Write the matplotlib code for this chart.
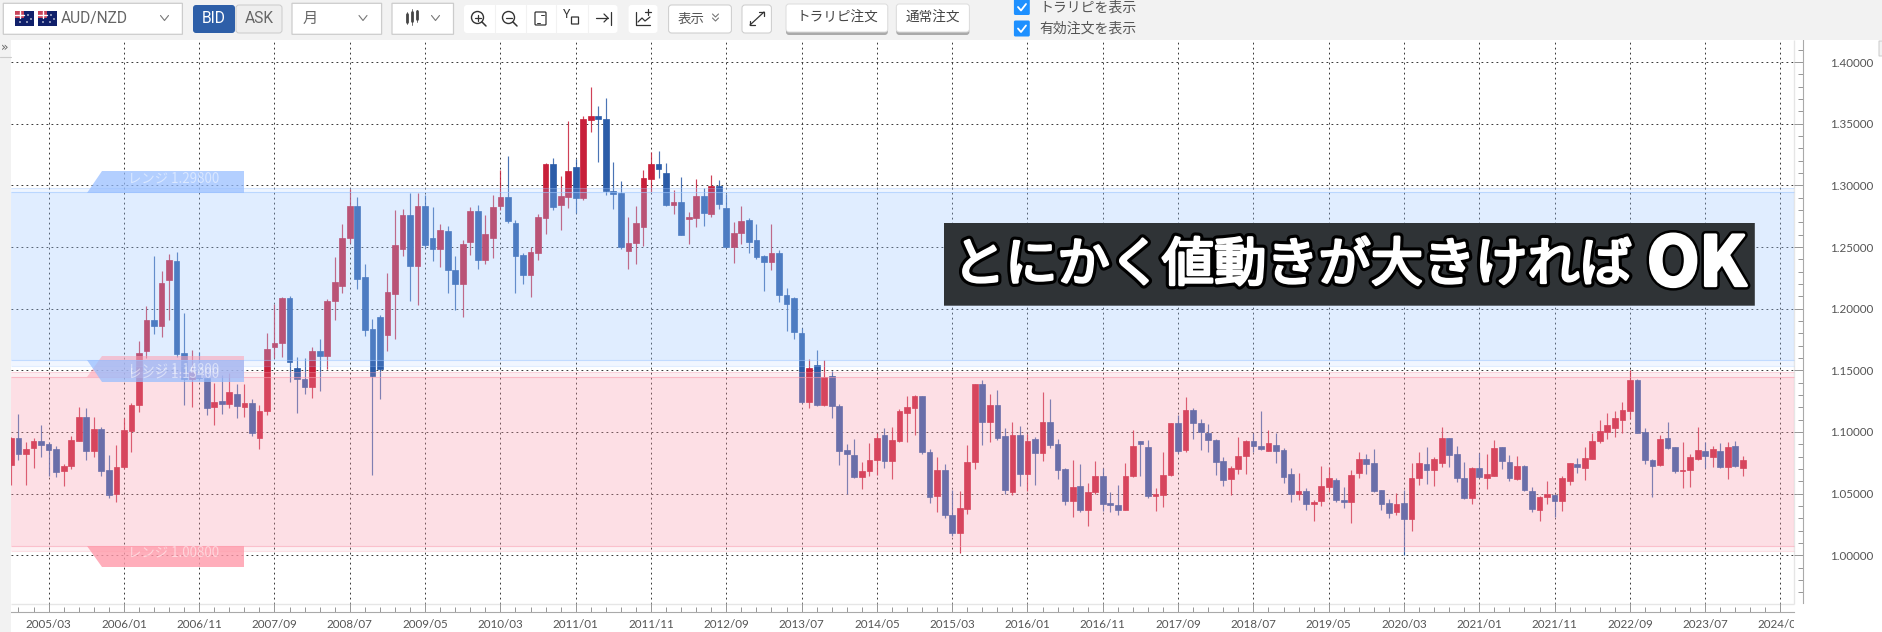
import matplotlib
matplotlib.use("Agg")
import matplotlib.pyplot as plt
import matplotlib.patheffects as pe
from matplotlib.patches import FancyBboxPatch, Polygon, Circle
from matplotlib.lines import Line2D
from matplotlib.ticker import FixedLocator, FixedFormatter
from matplotlib.transforms import Affine2D, Bbox

plt.rcParams['font.family'] = ['Noto Sans CJK JP', 'DejaVu Sans']

# ---------------- data (monthly AUD/NZD, first candle 2004/10) ----------------
first_month_index = -5   # months relative to 2005/03
body_top = [
1.0955,1.0953,1.0866,1.0923,1.0923,1.0901,1.0863,1.0725,1.0936,1.1121,
1.1121,1.1023,1.1028,1.0690,1.0719,1.1015,1.1218,1.1641,1.1907,1.1909,
1.2210,1.2397,1.2389,1.1638,1.1490,1.1500,1.1440,1.1243,1.1248,1.1327,
1.1305,1.1237,1.1234,1.1172,1.1671,1.1720,1.2083,1.2088,1.1519,1.1430,
1.1657,1.1654,1.2064,1.2213,1.2577,1.2831,1.2831,1.2258,1.1832,1.1929,
1.2132,1.2520,1.2758,1.2758,1.2836,1.2836,1.2572,1.2636,1.2634,1.2315,
1.2526,1.2796,1.2793,1.2607,1.2828,1.2906,1.2906,1.2693,1.2434,1.2458,
1.2742,1.3173,1.3171,1.2912,1.3117,1.3152,1.3535,1.3562,1.3562,1.3536,
1.2957,1.2935,1.2534,1.2694,1.3057,1.3176,1.3176,1.3100,1.2867,1.2867,
1.2743,1.2916,1.2916,1.2995,1.2995,1.2813,1.2618,1.2713,1.2721,1.2556,
1.2431,1.2450,1.2453,1.2114,1.2087,1.1803,1.1518,1.1543,1.1448,1.1451,
1.1207,1.0852,1.0817,1.0687,1.0776,1.0955,1.0973,1.0935,1.1167,1.1199,
1.1293,1.1288,1.0839,1.0694,1.0694,1.0328,1.0382,1.0758,1.1387,1.1387,
1.1218,1.1218,1.0965,1.0976,1.0976,1.0927,1.0946,1.1081,1.1081,1.0901,
1.0696,1.0556,1.0559,1.0516,1.0642,1.0642,1.0427,1.0409,1.0645,1.0890,
1.0925,1.0882,1.0495,1.0653,1.1070,1.1070,1.1180,1.1180,1.1073,1.0995,
1.0935,1.0763,1.0704,1.0809,1.0927,1.0930,1.0890,1.0909,1.0898,1.0855,
1.0661,1.0519,1.0522,1.0430,1.0562,1.0626,1.0613,1.0452,1.0648,1.0777,
1.0780,1.0750,1.0527,1.0422,1.0417,1.0422,1.0629,1.0750,1.0739,1.0777,
1.0954,1.0949,1.0823,1.0626,1.0710,1.0704,1.0656,1.0871,1.0876,1.0758,
1.0728,1.0726,1.0524,1.0476,1.0497,1.0487,1.0624,1.0745,1.0737,1.0793,
1.0930,1.1011,1.1054,1.1113,1.1175,1.1422,1.1425,1.1000,1.0774,1.0946,
1.0952,1.0876,1.0694,1.0798,1.0852,1.0849,1.0866,1.0849,1.0879,1.0884,1.0774]
body_bottom = [
1.0733,1.0820,1.0825,1.0871,1.0896,1.0858,1.0679,1.0684,1.0722,1.0931,
1.0847,1.0847,1.0684,1.0492,1.0495,1.0719,1.1009,1.1215,1.1657,1.1858,
1.1858,1.2232,1.1636,1.1432,1.1427,1.1440,1.1196,1.1202,1.1229,1.1226,
1.1207,1.1202,1.0988,1.0955,1.1169,1.1687,1.1722,1.1570,1.1427,1.1368,
1.1368,1.1616,1.1616,1.2061,1.2186,1.2572,1.2242,1.1827,1.1457,1.1513,
1.1783,1.2123,1.2485,1.2350,1.2350,1.2515,1.2482,1.2482,1.2310,1.2202,
1.2202,1.2539,1.2393,1.2393,1.2574,1.2836,1.2712,1.2428,1.2272,1.2272,
1.2455,1.2733,1.2825,1.2841,1.2904,1.2898,1.2898,1.3527,1.3538,1.2951,
1.2930,1.2499,1.2469,1.2529,1.2661,1.3049,1.3133,1.2843,1.2843,1.2599,
1.2729,1.2737,1.2778,1.2767,1.2848,1.2502,1.2502,1.2610,1.2542,1.2423,
1.2382,1.2382,1.2109,1.2041,1.1808,1.1245,1.1245,1.1220,1.1223,1.1210,
1.0844,1.0822,1.0633,1.0633,1.0684,1.0771,1.0763,1.0763,1.0927,1.1156,
1.1191,1.0839,1.0476,1.0478,1.0323,1.0177,1.0177,1.0376,1.0753,1.1078,
1.1083,1.0954,1.0527,1.0513,1.0659,1.0659,1.0828,1.0828,1.0892,1.0688,
1.0438,1.0438,1.0366,1.0366,1.0511,1.0419,1.0406,1.0371,1.0368,1.0640,
1.0901,1.0484,1.0484,1.0487,1.0648,1.0847,1.0855,1.1070,1.1000,1.0933,
1.0758,1.0610,1.0618,1.0699,1.0804,1.0884,1.0863,1.0847,1.0849,1.0632,
1.0495,1.0495,1.0419,1.0419,1.0441,1.0554,1.0446,1.0430,1.0430,1.0664,
1.0742,1.0524,1.0417,1.0344,1.0349,1.0293,1.0293,1.0624,1.0688,1.0688,
1.0747,1.0817,1.0624,1.0465,1.0462,1.0632,1.0624,1.0645,1.0763,1.0626,
1.0618,1.0527,1.0374,1.0368,1.0470,1.0441,1.0438,1.0602,1.0718,1.0704,
1.0777,1.0925,1.1000,1.1035,1.1097,1.1172,1.0992,1.0769,1.0728,1.0731,
1.0868,1.0683,1.0683,1.0688,1.0780,1.0806,1.0796,1.0720,1.0720,1.0726,1.0712]
wick_high = [
1.0960,1.1145,1.0915,1.0955,1.1053,1.0915,1.0890,1.0744,1.0966,1.1199,
1.1196,1.1118,1.1042,1.0817,1.0893,1.1110,1.1237,1.1738,1.2023,1.2430,
1.2302,1.2443,1.2457,1.1963,1.1665,1.1652,1.1480,1.1394,1.1462,1.1481,
1.1389,1.1386,1.1264,1.1218,1.1801,1.2037,1.2093,1.2104,1.1606,1.1603,
1.1692,1.1751,1.2075,1.2418,1.2690,1.2971,1.2909,1.2366,1.1916,1.1948,
1.2288,1.2804,1.2806,1.2936,1.2939,1.2920,1.2828,1.2685,1.2669,1.2431,
1.2555,1.2823,1.2839,1.2763,1.2925,1.3122,1.3235,1.2723,1.2455,1.2504,
1.2771,1.3179,1.3219,1.3074,1.3519,1.3211,1.3559,1.3794,1.3640,1.3706,
1.3187,1.3038,1.2743,1.2835,1.3127,1.3271,1.3282,1.3179,1.2965,1.3068,
1.2786,1.3051,1.2976,1.3084,1.3046,1.2927,1.2705,1.2835,1.2735,1.2683,
1.2437,1.2686,1.2475,1.2166,1.2098,1.1841,1.1594,1.1662,1.1586,1.1497,
1.1231,1.0906,1.0947,1.0760,1.0912,1.0988,1.1036,1.1043,1.1188,1.1290,
1.1298,1.1293,1.0863,1.0796,1.0742,1.0532,1.0519,1.0895,1.1392,1.1422,
1.1312,1.1341,1.1032,1.1083,1.1046,1.0984,1.0957,1.1328,1.1269,1.0944,
1.0712,1.0769,1.0742,1.0583,1.0761,1.0707,1.0516,1.0573,1.0745,1.1016,
1.0927,1.0935,1.0548,1.0841,1.1075,1.1140,1.1282,1.1194,1.1108,1.1067,
1.0941,1.0801,1.0726,1.0957,1.0933,1.0992,1.1172,1.1016,1.0992,1.0871,
1.0704,1.0669,1.0543,1.0452,1.0728,1.0720,1.0624,1.0551,1.0694,1.0839,
1.0823,1.0866,1.0532,1.0460,1.0503,1.0532,1.0750,1.0841,1.0879,1.0798,
1.1040,1.0954,1.0887,1.0753,1.0715,1.0833,1.0820,1.0935,1.0882,1.0815,
1.0806,1.0731,1.0556,1.0481,1.0605,1.0500,1.0640,1.0750,1.0790,1.0876,
1.0989,1.1097,1.1156,1.1169,1.1242,1.1505,1.1430,1.1032,1.0777,1.0976,
1.1078,1.0882,1.0922,1.0823,1.1043,1.0919,1.0887,1.0909,1.0919,1.0930,1.0809]
wick_low = [
1.0573,1.0776,1.0568,1.0706,1.0798,1.0641,1.0636,1.0562,1.0700,1.0931,
1.0776,1.0798,1.0646,1.0465,1.0430,1.0700,1.0836,1.1161,1.1603,1.1798,
1.1771,1.1912,1.1611,1.1215,1.1205,1.1420,1.1137,1.1056,1.1145,1.1196,
1.1115,1.1123,1.0966,1.0863,1.1140,1.1598,1.1608,1.1408,1.1156,1.1310,
1.1279,1.1335,1.1508,1.1908,1.2129,1.2536,1.2161,1.1781,1.0651,1.1268,
1.1657,1.1754,1.2426,1.2064,1.2032,1.2496,1.2383,1.2339,1.2129,1.1991,
1.1935,1.2437,1.2321,1.2361,1.2412,1.2798,1.2696,1.2129,1.2204,1.2096,
1.2396,1.2609,1.2798,1.2639,1.2814,1.2777,1.2885,1.3433,1.3190,1.2924,
1.2805,1.2488,1.2320,1.2366,1.2512,1.2943,1.3057,1.2835,1.2767,1.2594,
1.2521,1.2661,1.2672,1.2743,1.2805,1.2499,1.2374,1.2526,1.2453,1.2401,
1.2144,1.2312,1.2052,1.1819,1.1754,1.1239,1.1196,1.1212,1.1212,1.1115,
1.0730,1.0495,1.0627,1.0535,1.0644,1.0649,1.0709,1.0618,1.0922,1.0917,
1.0978,1.0823,1.0422,1.0352,1.0304,1.0159,1.0022,1.0333,1.0696,1.0892,
1.0917,1.0933,1.0495,1.0487,1.0565,1.0522,1.0567,1.0761,1.0874,1.0616,
1.0406,1.0309,1.0352,1.0237,1.0500,1.0360,1.0355,1.0325,1.0366,1.0634,
1.0640,1.0465,1.0363,1.0395,1.0645,1.0831,1.0841,1.0944,1.0858,1.0841,
1.0653,1.0562,1.0489,1.0659,1.0659,1.0836,1.0852,1.0847,1.0745,1.0589,
1.0433,1.0449,1.0368,1.0277,1.0398,1.0516,1.0435,1.0382,1.0263,1.0626,
1.0661,1.0516,1.0366,1.0306,1.0325,1.0000,1.0199,1.0567,1.0581,1.0559,
1.0715,1.0715,1.0594,1.0460,1.0417,1.0626,1.0538,1.0640,1.0699,1.0599,
1.0613,1.0519,1.0352,1.0280,1.0414,1.0309,1.0358,1.0573,1.0664,1.0610,
1.0777,1.0914,1.0946,1.0957,1.0989,1.1105,1.0989,1.0737,1.0470,1.0723,
1.0866,1.0664,1.0546,1.0554,1.0772,1.0712,1.0715,1.0707,1.0621,1.0718,1.0642]
rising = ("UDUUDDDUUU" "DUDDUUUUUD" "UUDDUDDUDU" "DUDUUUUDDD"
          "UDUUUUDDDD" "UUUDUDDUDD" "UUDUUUDDDU" "UUDUUDUUDD"
          "DDUUUUDDUD" "UUDUDDUUDD" "DUDDDDUDUD" "DDDUUUDUUU"
          "UDDUDDUUUD" "UDDUDUDUDD" "DUDUUDDDUU" "DDUUUDUDDD"
          "DDUUUDDUDD" "DUDUUUDDUU" "DDDDUDUUDU" "UDDDUDUUDD"
          "UDDUUDUUDU" "UUUUUUDDDU" "DDUUUDUDUDU")
x_tick_months = [0,10,20,30,40,50,60,70,80,90,100,110,120,130,140,150,160,170,180,190,200,210,220,230]
x_tick_labels = ["2005/03","2006/01","2006/11","2007/09","2008/07","2009/05","2010/03","2011/01",
                 "2011/11","2012/09","2013/07","2014/05","2015/03","2016/01","2016/11","2017/09",
                 "2018/07","2019/05","2020/03","2021/01","2021/11","2022/09","2023/07","2024/05"]
y_tick_values = [1.00,1.05,1.10,1.15,1.20,1.25,1.30,1.35,1.40]
y_tick_labels = ["1.00000","1.05000","1.10000","1.15000","1.20000","1.25000","1.30000","1.35000","1.40000"]
range_labels = ["レンジ 1.29800","レンジ 1.15400","レンジ 1.14800","レンジ 1.00800"]
blue_range = dict(outer_top=1.2981, inner_top=1.2944, inner_bottom=1.1581, outer_bottom=1.1538)
pink_range = dict(outer_top=1.1489, inner_top=1.1444, inner_bottom=1.0078, outer_bottom=1.0037)

# ---------------- figure and axes ----------------
W, H = 1883, 632
fig = plt.figure(figsize=(W/100, H/100), dpi=100, facecolor='white')
T = Affine2D().scale(1, -1).translate(0, H)   # pixels measured from the top-left

AX_L, AX_R, AX_T, AX_B = 11, 1803.4, 40, 612.3
ax = fig.add_axes([AX_L/W, (H-AX_B)/H, (AX_R-AX_L)/W, (AX_B-AX_T)/H])
PX_PER_MONTH, X0 = 7.53, 48.6
PX_PER_UNIT, Y0 = 1233, 555.3
ax.set_xlim((AX_L-X0)/PX_PER_MONTH, (AX_R-X0)/PX_PER_MONTH)
ax.set_ylim(1+(Y0-AX_B)/PX_PER_UNIT, 1+(Y0-AX_T)/PX_PER_UNIT)
PLOT_RIGHT = (1794-X0)/PX_PER_MONTH
PLOT_FRAC = (1794-AX_L)/(AX_R-AX_L)
FLOOR = 1+(Y0-603.7)/PX_PER_UNIT

UP, DOWN = '#c8203a', '#2b5ca8'
GRID = '#3a3a3a'
dash = (0, (1.8, 3.2))
ax.hlines(y_tick_values, ax.get_xlim()[0], PLOT_RIGHT, colors=GRID, linewidths=0.72, linestyles=dash, zorder=1)
ax.vlines(x_tick_months, FLOOR, ax.get_ylim()[1], colors=GRID, linewidths=0.72, linestyles=dash, zorder=1)
ax.hlines(FLOOR, ax.get_xlim()[0], PLOT_RIGHT, colors='#e6e6e6', linewidths=1, zorder=1)
ax.vlines(PLOT_RIGHT, FLOOR, ax.get_ylim()[1], colors='#e6e6e6', linewidths=1, zorder=1)

months = [first_month_index+i for i in range(len(body_top))]
colors = [UP if r == 'U' else DOWN for r in rising]
ax.vlines(months, wick_low, wick_high, colors=colors, linewidths=0.85, alpha=0.85, zorder=2)
ax.bar(months, [t-b for t, b in zip(body_top, body_bottom)], bottom=body_bottom, width=0.76,
       color=colors, edgecolor=colors, linewidth=0.5, zorder=3)

def band(rng, rgb):
    ax.axhspan(rng['inner_bottom'], rng['inner_top'], xmax=PLOT_FRAC, facecolor=rgb, alpha=0.31, lw=0, zorder=4)
    ax.axhspan(rng['inner_top'], rng['outer_top'], xmax=PLOT_FRAC, facecolor=rgb, alpha=0.17, lw=0, zorder=4)
    ax.axhspan(rng['outer_bottom'], rng['inner_bottom'], xmax=PLOT_FRAC, facecolor=rgb, alpha=0.14, lw=0, zorder=4)
    for key, a in (('outer_top', .3), ('inner_top', .55), ('inner_bottom', .55), ('outer_bottom', .3)):
        ax.hlines(rng[key], ax.get_xlim()[0], PLOT_RIGHT, colors=[rgb], linewidths=0.8, alpha=a, zorder=4)
band(blue_range, '#9cc6ff')
band(pink_range, '#f999ac')

for s in ('top', 'left'):
    ax.spines[s].set_visible(False)
ax.spines['right'].set_color('#aaaaaa')
ax.spines['bottom'].set_color('#aaaaaa')
ax.spines['right'].set_bounds(1+(Y0-602.7)/PX_PER_UNIT, ax.get_ylim()[1])
ax.spines['bottom'].set_bounds(ax.get_xlim()[0], PLOT_RIGHT)

ax.xaxis.set_major_locator(FixedLocator(x_tick_months))
ax.xaxis.set_major_formatter(FixedFormatter(x_tick_labels))
ax.xaxis.set_minor_locator(FixedLocator([m for m in range(-4, 232, 2) if m not in x_tick_months]))
ax.tick_params(axis='x', which='major', direction='in', length=6.2, width=0.72, color='#999999',
               pad=4.5, labelsize=8.4, labelcolor='#555555')
ax.tick_params(axis='x', which='minor', direction='in', length=3.7, width=0.72, color='#999999')
for lab in ax.get_xticklabels():
    lab.set_fontfamily('Lato')
    lab.set_clip_on(True)
    lab.set_clip_box(Bbox.from_extents(0, 0, 1794, H))

ax.yaxis.tick_right()
ax.yaxis.set_major_locator(FixedLocator(y_tick_values))
ax.yaxis.set_major_formatter(FixedFormatter(y_tick_labels))
ax.yaxis.set_minor_locator(FixedLocator([v/100 for v in range(97, 142) if v % 5]))
ax.tick_params(axis='y', which='major', direction='in', length=6.2, width=0.72, color='#999999',
               pad=50.5, labelsize=8.4, labelcolor='#555555')
ax.tick_params(axis='y', which='minor', direction='in', length=3.7, width=0.72, color='#999999')
for lab in ax.get_yticklabels():
    lab.set_fontfamily('Lato')
    lab.set_horizontalalignment('right')

# ---------------- helpers for chrome, in pixels ----------------
def rect(x0, y0, x1, y1, fc, ec='none', lw=0.72, r=0, z=5, alpha=None):
    fig.add_artist(FancyBboxPatch((x0, y0), x1-x0, y1-y0, boxstyle=f"round,pad=0,rounding_size={r}",
                                  transform=T, fc=fc, ec=ec, lw=lw, zorder=z, alpha=alpha))
def line(xs, ys, c='#555555', lw=0.9, z=6):
    fig.add_artist(Line2D(xs, ys, transform=T, color=c, lw=lw, zorder=z, solid_capstyle='round'))
def label(x, y, s, size=10, c='#555555', ha='center', va='center', z=7, family=None, **kw):
    return fig.text(x, y, s, transform=T, fontsize=size, color=c, ha=ha, va=va, zorder=z,
                    family=family or ['Noto Sans CJK JP', 'DejaVu Sans'], **kw)
def chevron(cx, cy, c='#777777', w=4, h=3):
    line([cx-w, cx, cx+w], [cy-h, cy+h-1, cy-h], c=c, lw=0.8)

# page chrome
rect(0, 0, W, 40, '#f2f2f2')
rect(0, 40, 11, H, '#f2f2f2')
line([0, 11], [56.5, 56.5], c='#cccccc', lw=0.8)
label(4.5, 47, "»", size=9, c='#666666', family=['DejaVu Sans'])
rect(1879, 41, 1885, 56, '#f2f2f2', ec='#cccccc')

# pair selector
rect(3.3, 3.3, 182.4, 34.3, 'white', ec='#cccccc', lw=0.9)
for fx in (15, 38):
    rect(fx, 11, fx+19, 26, '#10206a')
    rect(fx, 11, fx+9, 18, '#c8445a')
    line([fx, fx+9], [14.5, 14.5], c='white', lw=1)
    line([fx+4.5, fx+4.5], [11, 18], c='white', lw=1)
    for dx, dy in ((13, 15), (16, 19), (12, 22), (5, 22)):
        fig.add_artist(Circle((fx+dx, dy), 0.8, transform=T, fc='white', ec='none', zorder=6))
label(60.4, 18.5, "AUD/NZD", size=11.2, ha='left', c='#666666', family=['Roboto'])
chevron(164.5, 18.5)

# BID / ASK
rect(193, 5, 235, 33, '#2e5fa8', r=3)
label(214, 18.5, "BID", size=11.2, c='white', family=['Roboto'])
rect(236, 5, 282, 33, '#eeeeee', ec='#cccccc', r=3)
label(259, 18.5, "ASK", size=11.2, c='#666666', family=['Roboto'])

# period selector
rect(292, 3.3, 381.6, 34.3, 'white', ec='#cccccc', lw=0.9)
label(310, 18.5, "月", size=11, c='#666666')
chevron(363, 18.5)

# chart type selector
rect(392, 3.3, 453.5, 34.3, 'white', ec='#cccccc', lw=0.9)
for ix, (a, b, c0, d) in zip((407, 412, 417), ((12, 24, 14, 22), (9, 25, 12, 21), (10, 22, 11, 19))):
    line([ix, ix], [a, b], c='#555555', lw=0.6)
    line([ix, ix], [c0, d], c='#444444', lw=2)
chevron(435.5, 18.5)

# zoom and tool icons
rect(464, 5, 617.5, 33, 'white', r=3)
for sx in (494.7, 525.7, 556.3, 587.8):
    line([sx, sx], [5, 33], c='#f2f2f2', lw=0.8)
for cx, sym in ((477.5, '+'), (508.5, '-')):
    fig.add_artist(Circle((cx, 17.5), 6, transform=T, fc='none', ec='#333333', lw=1, zorder=6))
    line([cx+4.5, cx+8.5], [22, 26], c='#333333', lw=1.1)
    line([cx-3, cx+3], [17.5, 17.5], c='#333333', lw=0.9)
    if sym == '+':
        line([cx, cx], [14.5, 20.5], c='#333333', lw=0.9)
rect(535, 12, 546, 25, 'none', ec='#333333', lw=0.9, r=1)
line([537, 540], [22.5, 22.5], c='#333333', lw=0.7)
line([541, 544], [14.5, 14.5], c='#333333', lw=0.7)
label(566.5, 15, "Y", size=9, c='#333333', family=['Roboto'])
rect(571.5, 17, 578.5, 24, 'none', ec='#333333', lw=0.9)
line([596, 608], [18, 18], c='#333333', lw=0.9)
line([604, 608, 604], [14, 18, 22], c='#333333', lw=0.9)
line([611, 611], [12, 25], c='#333333', lw=0.9)

# indicator icon
rect(628.6, 5, 657.5, 33, 'white', r=3)
line([636, 636, 650], [12, 25, 25], c='#333333', lw=0.9)
line([638, 642, 645, 650], [22, 18, 21, 17], c='#333333', lw=0.9)
line([645, 651], [12, 12], c='#333333', lw=0.9)
line([648, 648], [9, 15], c='#333333', lw=0.9)

# display and expand
rect(668.6, 5, 731.4, 33, 'white', ec='#cccccc', r=3)
label(691, 18.5, "表示", size=9.7)
chevron(715.5, 16, w=3, h=2)
chevron(715.5, 20, w=3, h=2)
rect(742, 5, 771.4, 33, 'white', ec='#cccccc', r=3)
line([750, 764], [25, 12], c='#333333', lw=0.9)
line([759, 764, 764], [12, 12, 16], c='#333333', lw=0.9)
line([750, 750, 755], [21, 25, 25], c='#333333', lw=0.9)

# order buttons
for x0, x1, s in ((786, 887.8, "トラリピ注文"), (896.3, 969.4, "通常注文")):
    rect(x0, 6, x1, 35, '#aaaaaa', r=3)
    rect(x0, 4, x1, 32, 'white', ec='#dddddd', r=3)
    label((x0+x1)/2, 17.7, s, size=9.8, c='#444444')

# check boxes
for cy, s in ((7, "トラリピを表示"), (28.5, "有効注文を表示")):
    rect(1013.9, cy-8, 1029.8, cy+8, '#1e90ff', r=1.5)
    line([1018, 1021, 1026], [cy, cy+3.5, cy-3], c='white', lw=1.3)
    label(1039, cy+0.3, s, size=10, ha='left')

# range tags
def tag(top, bottom, slant_top, fc, alpha):
    if slant_top:
        pts = [(87, top), (243.7, top), (243.7, bottom), (102, bottom)]
    else:
        pts = [(102, top), (243.7, top), (243.7, bottom), (87, bottom)]
    fig.add_artist(Polygon(pts, closed=True, transform=T, fc=fc, ec='none', alpha=alpha, zorder=5))
tag(171, 192.7, False, '#96bdff', 0.72)
tag(355.7, 377.3, False, '#ffa0b2', 0.55)
tag(360.3, 382.3, True, '#96bdff', 0.72)
tag(545.7, 567.3, True, '#ff9aaa', 0.8)
for (yy, s) in ((179, range_labels[0]), (373.5, range_labels[1]), (369.5, range_labels[2]), (553, range_labels[3])):
    label(173.5, yy, s, size=9.6, c='white', alpha=0.5)

# caption
rect(944, 223, 1754.8, 305.7, '#2f3336', z=8)
stroke = [pe.withStroke(linewidth=6.5, foreground='black'),
          pe.withStroke(linewidth=2.0, foreground='white'), pe.Normal()]
t1 = label(953, 266, "とにかく値動きが大きければ", size=37.6, c='white', ha='left', z=9)
t1.set_path_effects(stroke)
t2 = label(1746, 266, "OK", size=49, c='white', ha='right', z=9, weight='bold')
t2.set_path_effects([pe.withStroke(linewidth=6, foreground='black'),
                     pe.withStroke(linewidth=2.4, foreground='white'), pe.Normal()])

fig.savefig("out.png", dpi=100, facecolor='white')
